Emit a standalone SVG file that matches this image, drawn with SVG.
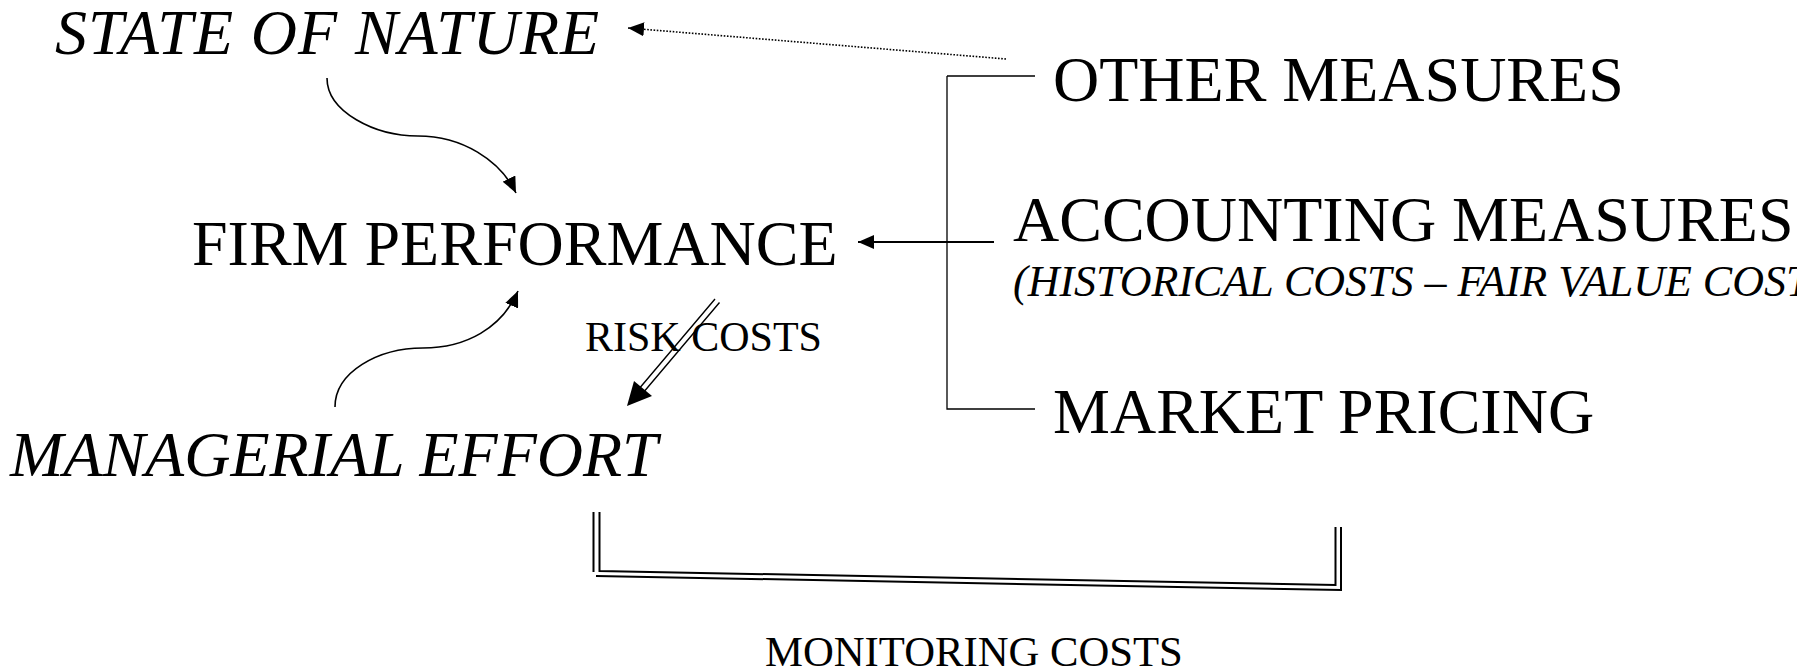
<svg xmlns="http://www.w3.org/2000/svg" width="1797" height="672" viewBox="0 0 1797 672">
<style>
text{font-family:"Liberation Serif","Times New Roman",serif;fill:#000}
.big{font-size:64px}
.small{font-size:42px}
.it{font-style:italic}
.ln{stroke:#000;fill:none}
</style>
<defs>
<marker id="ah" viewBox="0 0 16 14" refX="16" refY="7" markerWidth="16" markerHeight="14" markerUnits="userSpaceOnUse" orient="auto">
<path d="M0,0 L16,7 L0,14 Z" fill="#000"/>
</marker>
</defs>
<rect width="1797" height="672" fill="#fff"/>
<g id="connectors">
<path class="ln" d="M1006,59 L628,28" stroke-width="1.6" stroke-dasharray="1.6 1.6" marker-end="url(#ah)"/>
<path class="ln" d="M327,78 C327,112 375,136 418,136 C462,136 500,160 516,193" stroke-width="1.6" marker-end="url(#ah)"/>
<path class="ln" d="M335,407 C335,372 378,348 423,348 C466,348 502,328 518,291" stroke-width="1.6" marker-end="url(#ah)"/>
<path class="ln" d="M947,76 L1035,76 M947,76 L947,409 L1035,409" stroke-width="1.3"/>
<path class="ln" d="M994,242 L858,242" stroke-width="2" marker-end="url(#ah)"/>
<g id="risk-arrow">
<path class="ln" d="M715,299 L638,390 M719.5,302.5 L642.5,393.5" stroke-width="1.4"/>
<path d="M627,406 L634,381 L652,396 Z" fill="#000"/>
</g>
<g id="monitoring-bracket">
<path class="ln" d="M593.5,512 L593.5,572 M599.5,512 L599.5,571 L1335.5,585 L1335.5,527 M1341,527 L1341,590 L596,576" stroke-width="2"/>
</g>
</g>
<g id="state-of-nature"><text class="big it" x="55" y="54" textLength="544" lengthAdjust="spacing">STATE OF NATURE</text></g>
<g id="firm-performance"><text class="big" x="192" y="265">FIRM PERFORMANCE</text></g>
<g id="managerial-effort"><text class="big it" x="10" y="476">MANAGERIAL EFFORT</text></g>
<g id="other-measures"><text class="big" x="1053" y="101">OTHER MEASURES</text></g>
<g id="accounting-measures">
<text class="big" x="1013" y="241">ACCOUNTING MEASURES</text>
<text class="it" x="1013" y="296" font-size="44">(HISTORICAL COSTS – FAIR VALUE COSTS)</text>
</g>
<g id="market-pricing"><text class="big" x="1053" y="433">MARKET PRICING</text></g>
<g id="risk-costs-label"><text class="small" x="585" y="351">RISK COSTS</text></g>
<g id="monitoring-costs-label"><text x="765" y="666" font-size="42.7">MONITORING COSTS</text></g>
</svg>
